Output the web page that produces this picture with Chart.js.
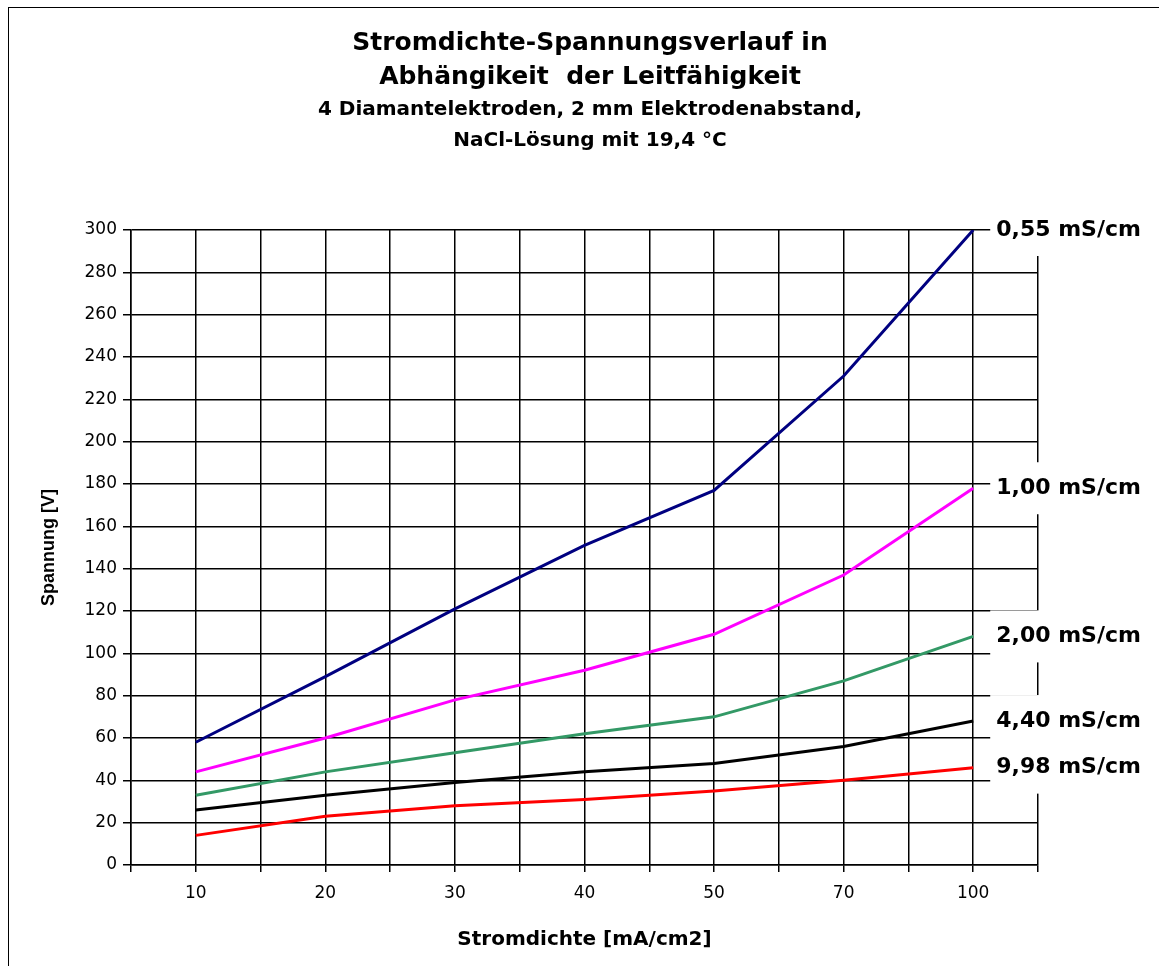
<!DOCTYPE html>
<html>
<head>
<meta charset="utf-8">
<script src="https://cdn.jsdelivr.net/npm/chart.js@4"></script>
<style>
  html, body { margin: 0; padding: 0; background: #fff; }
  #wrap { position: relative; width: 1159px; height: 966px; overflow: hidden; }
  #frame { position: absolute; left: 8px; top: 7px; width: 1300px; height: 1100px;
           border-left: 1.5px solid #000; border-top: 1.5px solid #000; }
  #chart { position: absolute; left: 0; top: 0; }
</style>
</head>
<body>
<div id="wrap">
  <div id="frame"></div>
  <canvas id="chart" width="1159" height="966"></canvas>
</div>
<script>
const stromdichte = ['10', '20', '30', '40', '50', '70', '100'];

const spannung055 = [58, 89, 121, 151, 177, 231, 300];
const spannung100 = [44, 60, 78, 92, 109, 137, 178];
const spannung200 = [33, 44, 53, 62, 70, 87, 108];
const spannung440 = [26, 33, 39, 44, 48, 56, 68];
const spannung998 = [14, 23, 28, 31, 35, 40, 46];

const leitfaehigkeit = ['0,55 mS/cm', '1,00 mS/cm', '2,00 mS/cm', '4,40 mS/cm', '9,98 mS/cm'];
const farben = ['#000080', '#ff00ff', '#339966', '#000000', '#ff0000'];

const yMin = 0, yMax = 300, yStep = 20;

const FONT = '"DejaVu Sans", Arial, sans-serif';
const ARIAL = '"Liberation Sans", Arial, sans-serif';

function toPoints(values) {
  return values.map((v, i) => ({ x: i + 1, y: v }));
}

const serien = [spannung055, spannung100, spannung200, spannung440, spannung998];

// labels right of the last point, on a white box (like the Excel data labels)
const endLabels = {
  id: 'endLabels',
  afterDatasetsDraw(chart) {
    const ctx = chart.ctx;
    ctx.save();
    ctx.font = 'bold 22px ' + FONT;
    ctx.textAlign = 'left';
    ctx.textBaseline = 'middle';
    chart.data.datasets.forEach((ds, i) => {
      const meta = chart.getDatasetMeta(i);
      const last = meta.data[meta.data.length - 1];
      const x = last.x + 17;
      const y = last.y;
      ctx.fillStyle = '#fff';
      ctx.fillRect(x, y - 26, 165, 52);
      ctx.fillStyle = '#000';
      ctx.fillText(leitfaehigkeit[i], x + 6, y);
    });
    ctx.restore();
  }
};

new Chart(document.getElementById('chart'), {
  type: 'line',
  data: {
    datasets: serien.map((s, i) => ({
      label: leitfaehigkeit[i],
      data: toPoints(s),
      borderColor: farben[i],
      borderWidth: 3,
      pointRadius: 0,
      tension: 0
    }))
  },
  options: {
    responsive: false,
    animation: false,
    events: [],
    layout: { padding: { left: 21, right: 0, top: 0, bottom: 0 } },
    plugins: {
      legend: { display: false },
      tooltip: { enabled: false },
      title: {
        display: true,
        text: ['Stromdichte-Spannungsverlauf in', 'Abhängikeit  der Leitfähigkeit'],
        color: '#000',
        font: { family: FONT, size: 25, weight: 'bold', lineHeight: 34 / 25 },
        padding: { top: 26, bottom: 0 }
      },
      subtitle: {
        display: true,
        text: ['4 Diamantelektroden, 2 mm Elektrodenabstand,', 'NaCl-Lösung mit 19,4 °C'],
        color: '#000',
        font: { family: FONT, size: 20, weight: 'bold', lineHeight: 31 / 20 },
        padding: { top: 0.5, bottom: 73.5 }
      }
    },
    scales: {
      x: {
        type: 'linear',
        min: 0.5,
        max: stromdichte.length + 0.5,
        afterFit(scale) { scale.height = 101; },
        ticks: {
          stepSize: 0.5,
          autoSkip: false,
          maxRotation: 0,
          color: '#000',
          padding: 11,
          font: { family: FONT, size: 17 },
          callback: (v) => Math.abs(v - Math.round(v)) < 1e-6 ? (stromdichte[Math.round(v) - 1] || '') : ''
        },
        grid: { color: '#000', lineWidth: 1.5, tickLength: 7 },
        border: { color: '#000', width: 1.5 },
        title: {
          display: true,
          text: 'Stromdichte [mA/cm2]',
          color: '#000',
          font: { family: FONT, size: 20, weight: 'bold' },
          padding: { top: 0, bottom: 14 }
        }
      },
      y: {
        min: yMin,
        max: yMax,
        afterFit(scale) { scale.width = 110; },
        ticks: {
          stepSize: yStep,
          color: '#000',
          padding: 6,
          font: { family: FONT, size: 17 }
        },
        grid: { color: '#000', lineWidth: 1.5, tickLength: 8 },
        border: { color: '#000', width: 1.5 },
        title: {
          display: true,
          text: 'Spannung [V]',
          color: '#000',
          font: { family: ARIAL, size: 18, weight: 'bold' },
          padding: { top: 16.9, bottom: 0 }
        }
      },
      // empty space on the right for the series labels
      rechts: {
        type: 'linear',
        position: 'right',
        min: yMin,
        max: yMax,
        afterFit(scale) { scale.width = 121; },
        ticks: { display: false },
        grid: { display: false },
        border: { display: false }
      }
    }
  },
  plugins: [endLabels]
});
</script>
</body>
</html>
